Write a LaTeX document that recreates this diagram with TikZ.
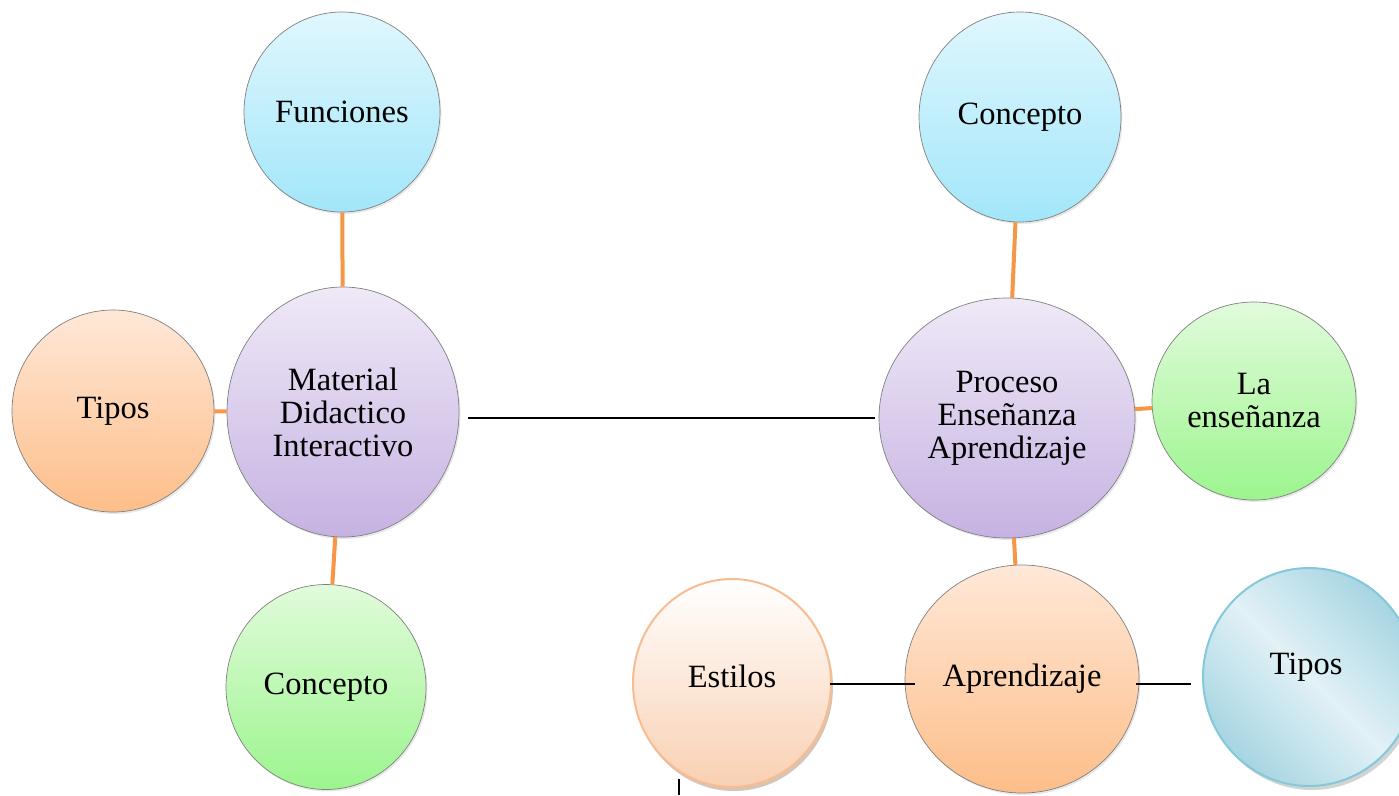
\documentclass[tikz,border=0pt]{standalone}
\usepackage{fontspec}
\setmainfont{Liberation Serif}
\usetikzlibrary{shapes.geometric,shadows}

\definecolor{blueTop}{HTML}{E0F7FD}
\definecolor{blueBot}{HTML}{A2E6FA}
\definecolor{lilaTop}{HTML}{EFE9F7}
\definecolor{lilaBot}{HTML}{C6B2E2}
\definecolor{peachTop}{HTML}{FFE8D8}
\definecolor{peachBot}{HTML}{FDBE89}
\definecolor{mintTop}{HTML}{E1FBDB}
\definecolor{mintBot}{HTML}{9CF58E}
\definecolor{rimGray}{HTML}{808080}
\definecolor{linkOrange}{HTML}{F79646}
\definecolor{softPeach}{HTML}{F9D0B2}
\definecolor{softPeachRim}{HTML}{F8BC90}
\definecolor{iceEdge}{HTML}{A6D5E2}
\definecolor{iceMid}{HTML}{E2F1F6}
\definecolor{iceRim}{HTML}{84C8D9}

\tikzset{
  bubble/.style={ellipse, inner sep=0pt, align=center, draw=rimGray, line width=0.7pt,
    font=\fontsize{32.5}{33}\selectfont,
    drop shadow={opacity=0.18, shadow xshift=1.5pt, shadow yshift=-2pt}},
  skyball/.style={bubble, top color=blueTop, bottom color=blueBot},
  lilaball/.style={bubble, top color=lilaTop, bottom color=lilaBot},
  peachball/.style={bubble, top color=peachTop, bottom color=peachBot},
  mintball/.style={bubble, top color=mintTop, bottom color=mintBot},
  paleball/.style={ellipse, inner sep=0pt, align=center, draw=softPeachRim, line width=2pt,
    top color=white, bottom color=softPeach,
    drop shadow={opacity=0.35, fill=brown!70!black, shadow xshift=2pt, shadow yshift=-4pt}},
  iceball/.style={ellipse, inner sep=0pt, align=center, draw=iceRim, line width=2pt,
    left color=iceEdge, right color=iceEdge, middle color=iceMid, shading angle=-45,
    drop shadow={opacity=0.35, fill=gray, shadow xshift=3pt, shadow yshift=-4pt}},
  caption/.style={font=\fontsize{32.5}{33}\selectfont},
  orangelink/.style={draw=linkOrange, line width=4pt},
  blacklink/.style={draw=black, line width=1.4pt},
}

\begin{document}
\begin{tikzpicture}[x=1pt,y=-1pt]
\useasboundingbox (0,0) rectangle (1399,795);

% left cluster
\node[lilaball, minimum width=232pt, minimum height=250pt] (mat) at (343,412) {Material\\Didactico\\Interactivo};
\node[skyball, minimum width=196pt, minimum height=200pt] (fun) at (342,112) {Funciones};
\node[peachball, minimum width=202pt, minimum height=202pt] (tiposL) at (113,411) {Tipos};
\node[mintball, minimum width=200pt, minimum height=205pt] (concL) at (326,687) {Concepto};

% right cluster
\node[lilaball, minimum width=256pt, minimum height=240pt] (proc) at (1007,418) {Proceso\\Enseñanza\\Aprendizaje};
\node[skyball, minimum width=202pt, minimum height=210pt] (concR) at (1020,117) {Concepto};
\node[mintball, minimum width=204pt, minimum height=198pt] (ens) at (1254,401) {La\\enseñanza};
\node[peachball, minimum width=234pt, minimum height=228pt] (apr) at (1022,679) {Aprendizaje};
\node[paleball, minimum width=198pt, minimum height=208pt] (est) at (732,683) {};
\node[caption] at (732,676) {Estilos};
\node[iceball, minimum width=212pt, minimum height=218pt] (tiposR) at (1309,677) {};
\node[caption] at (1306,667) {Tipos};

% spokes
\draw[orangelink] (fun) -- (mat);
\draw[orangelink] (tiposL) -- (mat);
\draw[orangelink] (mat) -- (concL);
\draw[orangelink] (concR) -- (proc);
\draw[orangelink] (proc) -- (ens);
\draw[orangelink] (proc) -- (apr);

% plain links, the bottom two share one row
\coordinate (row) at (0,684);
\draw[blacklink] ([xshift=9pt]mat.east |- proc.west) -- ([xshift=-4pt]proc.west);
\draw[blacklink] ([xshift=-2pt]est.east |- row) -- ([xshift=10pt]apr.west |- row);
\draw[blacklink] ([xshift=-3pt]apr.east |- row) -- ([xshift=-11pt]tiposR.west |- row);

\coordinate (tickTop) at (679,779);
\coordinate (tickBot) at (679,795);
\draw[blacklink] (tickTop) -- (tickBot);
\end{tikzpicture}
\end{document}
